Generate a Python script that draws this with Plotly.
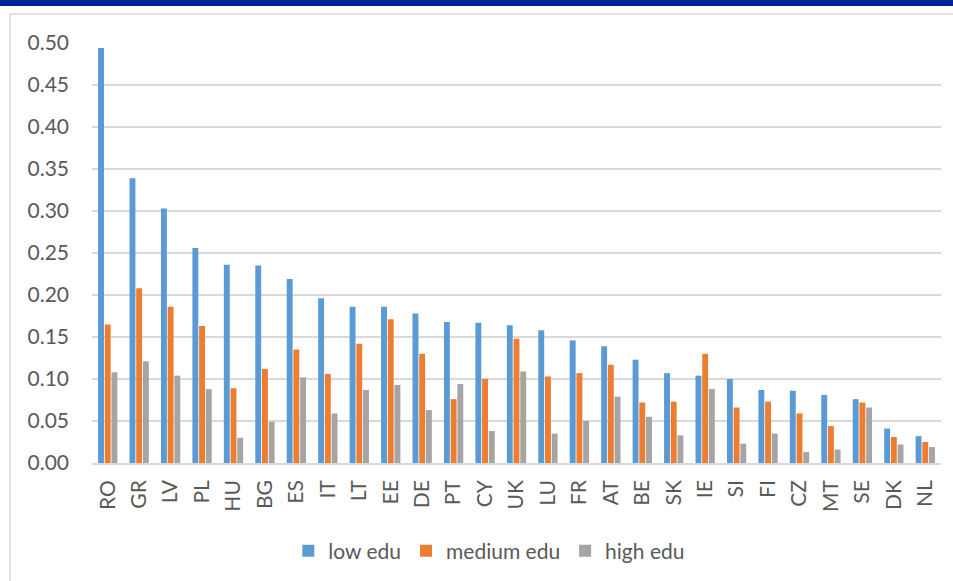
import plotly.graph_objects as go

countries = ["RO", "GR", "LV", "PL", "HU", "BG", "ES", "IT", "LT", "EE", "DE", "PT", "CY",
             "UK", "LU", "FR", "AT", "BE", "SK", "IE", "SI", "FI", "CZ", "MT", "SE", "DK", "NL"]

low_edu = [0.494, 0.339, 0.303, 0.256, 0.236, 0.235, 0.219, 0.196, 0.186, 0.186, 0.178, 0.168, 0.167,
           0.164, 0.158, 0.146, 0.139, 0.123, 0.107, 0.104, 0.100, 0.087, 0.086, 0.081, 0.076, 0.041, 0.032]
medium_edu = [0.165, 0.208, 0.186, 0.163, 0.089, 0.112, 0.135, 0.106, 0.142, 0.171, 0.130, 0.076, 0.100,
              0.148, 0.103, 0.107, 0.117, 0.072, 0.073, 0.130, 0.066, 0.073, 0.059, 0.044, 0.072, 0.031, 0.025]
high_edu = [0.108, 0.121, 0.104, 0.088, 0.030, 0.049, 0.102, 0.059, 0.087, 0.093, 0.063, 0.094, 0.038,
            0.109, 0.035, 0.050, 0.079, 0.055, 0.033, 0.088, 0.023, 0.035, 0.013, 0.016, 0.066, 0.022, 0.019]

y_ticks = [0.0, 0.05, 0.10, 0.15, 0.20, 0.25, 0.30, 0.35, 0.40, 0.45, 0.50]

series = [
    ("low edu", low_edu, "#5B9BD5"),
    ("medium edu", medium_edu, "#ED7D31"),
    ("high edu", high_edu, "#A5A5A5"),
]

font_family = "Lato, 'Open Sans', sans-serif"
text_color = "#595959"
font_size = 21

fig = go.Figure()
for name, vals, color in series:
    fig.add_trace(go.Bar(
        x=countries, y=vals, name=name,
        marker=dict(color=color, line=dict(width=0)),
    ))

fig.update_layout(
    width=953, height=581,
    margin=dict(l=92, r=12, t=43, b=118, autoexpand=False),
    paper_bgcolor="white", plot_bgcolor="white",
    barmode="group", bargap=0.36, bargroupgap=0.12,
    font=dict(family=font_family, size=font_size, color=text_color),
    showlegend=True,
    legend=dict(
        orientation="h", x=0.468, xanchor="center", y=-0.21, yanchor="middle",
        font=dict(size=font_size, color=text_color), itemwidth=30,
        traceorder="normal",
    ),
    xaxis=dict(
        tickangle=-90, showgrid=False, showline=True, linecolor="#D9D9D9",
        linewidth=1.5, ticks="", ticklabelstandoff=7, automargin=False,
        tickfont=dict(size=font_size, color=text_color),
    ),
    yaxis=dict(
        range=[0, 0.5], tickvals=y_ticks, tickformat=".2f",
        showgrid=True, gridcolor="#D9D9D9", gridwidth=1.5,
        zeroline=False, showline=False, ticks="", automargin=False,
        ticklabelstandoff=22, tickfont=dict(size=font_size, color=text_color),
    ),
    shapes=[
        # dark blue header band
        dict(type="rect", xref="paper", yref="paper", layer="above",
             x0=-92 / 849, x1=1 + 12 / 849, y0=1 + 37 / 420, y1=1 + 43 / 420,
             fillcolor="#002395", line=dict(width=0)),
        # light chart-area frame
        dict(type="rect", xref="paper", yref="paper", layer="below",
             x0=-82 / 849, x1=1 + 20 / 849, y0=-130 / 420, y1=1 + 29 / 420,
             fillcolor="rgba(0,0,0,0)", line=dict(color="#D9D9D9", width=1.5)),
    ],
)

fig.write_html("out.html")
